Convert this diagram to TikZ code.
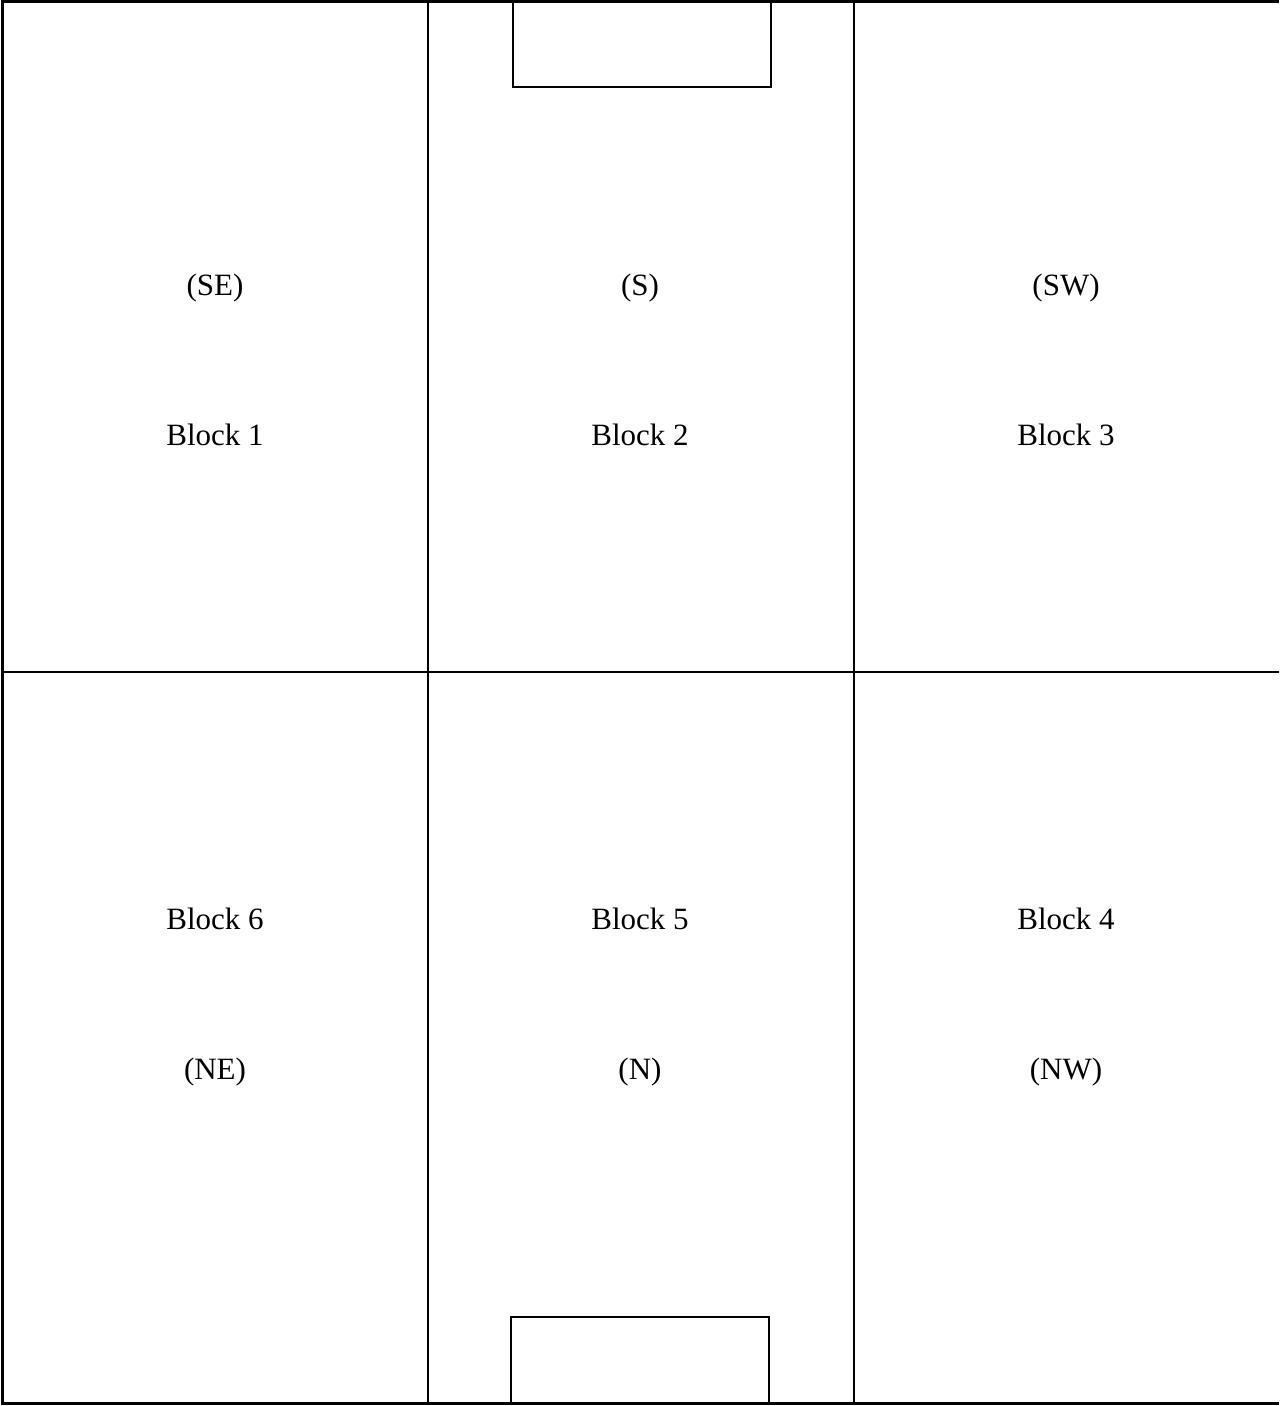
\documentclass[tikz,border=0pt]{standalone}
\usepackage{fontspec}
\setmainfont{Liberation Serif}
\usepackage{xcolor}
\definecolor{planline}{HTML}{000000}

\begin{document}
\begin{tikzpicture}[x=0.5pt,y=-0.5pt,
  wall/.style={planline,line width=1pt},
  outerwall/.style={planline,line width=1.5pt},
  blocklabel/.style={font=\fontsize{15.5}{19}\selectfont,inner sep=0pt}]
  \useasboundingbox (0,0) rectangle (1279,1406);
  % outer frame (open on the right)
  \draw[outerwall] (1279,1.5) -- (2.5,1.5) -- (2.5,1403.5) -- (1279,1403.5);
  % middle line and columns
  \draw[wall] (2.5,672) -- (1279,672);
  \draw[wall] (428,1.5) -- (428,1403.5);
  \draw[wall] (854,1.5) -- (854,1403.5);
  % goal boxes
  \draw[wall] (513,1.5) rectangle (771,87);
  \draw[wall] (511,1317) rectangle (769,1403.5);
  % labels
  \node[blocklabel] (se) at (215,288) {(SE)};
  \node[blocklabel] (b1) at (215,435) {Block 1};
  \node[blocklabel] (s) at (640,288) {(S)};
  \node[blocklabel] (b2) at (640,435) {Block 2};
  \node[blocklabel] (sw) at (1066,288) {(SW)};
  \node[blocklabel] (b3) at (1066,435) {Block 3};
  \node[blocklabel] (b6) at (215,919) {Block 6};
  \node[blocklabel] (ne) at (215,1072) {(NE)};
  \node[blocklabel] (b5) at (640,919) {Block 5};
  \node[blocklabel] (n) at (640,1072) {(N)};
  \node[blocklabel] (b4) at (1066,919) {Block 4};
  \node[blocklabel] (nw) at (1066,1072) {(NW)};
\end{tikzpicture}
\end{document}
